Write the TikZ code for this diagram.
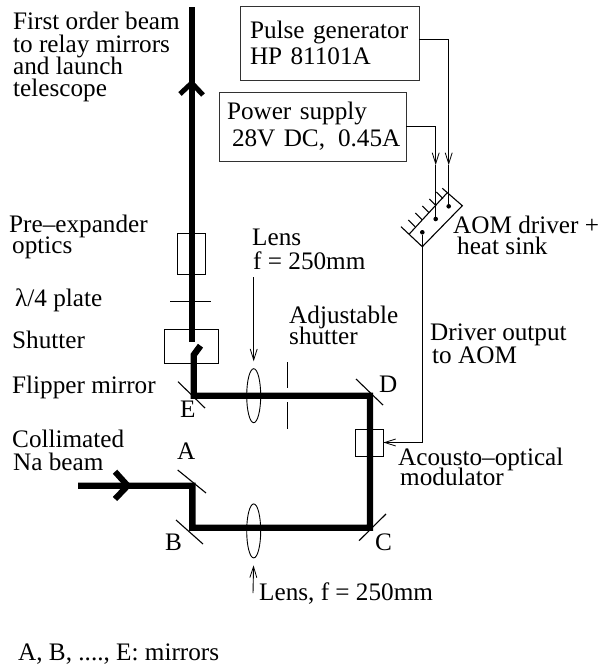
\documentclass[tikz,border=0pt]{standalone}
\usepackage{fontspec}
\setmainfont{Liberation Serif}
\usepackage{xcolor}
\usetikzlibrary{shapes.geometric,arrows.meta,positioning,calc}
\definecolor{boxgray}{RGB}{50, 50, 50}
\tikzset{
    lbl/.style={inner sep=0pt, anchor=base west, align=left, font=\fontsize{25.2}{22.5}\selectfont},
    infobox/.style={draw=boxgray, line width=0.9pt, rectangle, align=left, font=\fontsize{25.2}{26}\selectfont},
    optic/.style={draw=black, line width=0.9pt, rectangle, inner sep=0pt},
    lensbox/.style={draw=black, line width=0.9pt, ellipse, inner sep=0pt, minimum width=14pt, minimum height=54pt},
    pin/.style={fill=black, circle, inner sep=0pt, minimum size=4.6pt},
    beam/.style={line width=6.4pt, black, line join=miter},
    mirror/.style={line width=1.1pt, black},
    wire/.style={line width=0.9pt, black, -{Straight Barb[length=11pt,width=7pt,line width=0.8pt]}},
    plainwire/.style={line width=0.9pt, black},
}
\begin{document}
\begin{tikzpicture}[x=1pt, y=-1pt]
    \useasboundingbox (0,0) rectangle (601,668);

    % Instruments
    \node [infobox, minimum width=179pt, minimum height=74pt, inner xsep=10pt, text width=159pt] (pulse) at (329.5,43) {Pulse generator\\HP 81101A};
    \node [infobox, minimum width=187pt, minimum height=69pt, inner xsep=2pt, text width=183pt] (power) at (312.5,126.5) {\hspace*{6pt}Power supply\\[1pt]\hspace*{11pt}\mbox{28V DC,\hspace{13pt}0.45A}};

    % Optics on the beam
    \node [optic, minimum width=27.3pt, minimum height=40.3pt] (expander) at (191.3,254) {};
    \node [optic, minimum width=54.3pt, minimum height=34pt, below=54pt of expander] (shutterbox) {};
    \node [optic, minimum width=27.3pt, minimum height=27pt] (aom) at (369.3,442.5) {};
    \node [lensbox] (lensup) at (253.7,395.7) {};
    \node [lensbox, below=80.3pt of lensup] (lensdown) {};

    % Beam corners
    \coordinate (A) at (192.3,485.7);
    \coordinate (B) at (192.3,527.7);
    \coordinate (C) at (370,527.7);
    \coordinate (D) at (370,395.7);
    \coordinate (E) at (193.7,395.7);
    \coordinate (beamin) at (78,485.7);
    \coordinate (beamout) at (191.7,7);
    \coordinate (beamstop) at (191.7,341.7);

    % Beam (flipper mirror diverts it at the shutter)
    \draw [beam] (beamin) -- (A) -- (B) -- (C) -- (D) -- (E) -- (193.7,355) -- (200.5,345.7);
    \draw [beam] (beamstop) -- (beamout);
    \draw [line width=6pt, black] (115,471.7) -- (127.7,485.7) -- (115,499);
    \draw [line width=5pt, black] (180,94) -- (191.7,83) -- (203,95);

    % Mirrors, plate and adjustable shutter
    \draw [mirror] (177.7,470) -- (206,493);
    \draw [mirror] (176,520) -- (203,544);
    \draw [mirror] (359,540.7) -- (386,514);
    \draw [mirror] (356,379) -- (383,405);
    \draw [mirror] (178,381.7) -- (205,408);
    \draw [plainwire] (170,301.7) -- (210.7,301.7);
    \draw [plainwire] (287.3,362) -- (287.3,388);
    \draw [plainwire] (287.3,402) -- (287.3,429);

    % AOM driver with heat sink
    \draw [mirror] (442.3,188.3) -- (462.3,205.7) -- (422.3,246.7) -- (401,226.7);
    \draw [mirror] (409.3,234) -- (447.3,192.7);
    \foreach \i in {0,...,4} {
        \draw [mirror] ({415+7*\i},{226.7-7*\i}) -- ({408.3+7*\i},{220-7*\i});
    }
    \node [pin] (pinout) at (422.3,232.3) {};
    \node [pin] (pinpower) at (435.7,219) {};
    \node [pin] (pinpulse) at (448.7,206.3) {};

    % Cables
    \coordinate (powerin) at (435.7,165);
    \coordinate (pulsein) at (448.7,165);
    \draw [wire] ([yshift=4pt]pulse.east) -| (pulsein);
    \draw [plainwire] (pulsein) -- (pinpulse);
    \draw [wire] (power.east) -| (powerin);
    \draw [plainwire] (powerin) -- (pinpower);
    \draw [wire] (pinout) |- (aom.east);

    % Lens pointers
    \coordinate (lensupfrom) at (253.7,277);
    \coordinate (lensdownfrom) at (253,593);
    \draw [wire, shorten >=7pt] (lensupfrom) -- (lensup.north);
    \draw [wire, shorten >=7pt] (lensdownfrom) -- (lensdown.south);

    % Labels
    \node [lbl] (firstorder) at (13,30) {First order beam};
    \node [lbl] (relay) at (13,52.5) {to relay mirrors};
    \node [lbl] (launch) at (13,75) {and launch};
    \node [lbl] (telescope) at (13,97) {telescope};
    \node [lbl] (preexp) at (9,232) {Pre–expander};
    \node [lbl] (preoptics) at (12,253) {optics};
    \node [lbl] (plate) at (15,306) {λ/4 plate};
    \node [lbl] (shutterlbl) at (12,348) {Shutter};
    \node [lbl] (flipper) at (12,393) {Flipper mirror};
    \node [lbl] (collimated) at (12,447) {Collimated};
    \node [lbl] (nabeam) at (13,470) {Na beam};
    \node [lbl] (mirrors) at (18,660.5) {A, B, ...., E: mirrors};
    \node [lbl] (lblA) at (177,459) {A};
    \node [lbl] (lblB) at (165,550) {B};
    \node [lbl] (lblC) at (375,550.7) {C};
    \node [lbl] (lblD) at (379,392) {D};
    \node [lbl] (lblE) at (180,417) {E};
    \node [lbl] (lensuplbl) at (252,245.7) {Lens};
    \node [lbl] (lensupf) at (253,269) {f = 250mm};
    \node [lbl] (adjust) at (289,323) {Adjustable};
    \node [lbl] (adjshutter) at (289,344) {shutter};
    \node [lbl] (driverout) at (430,340.7) {Driver output};
    \node [lbl] (toaom) at (432,363) {to AOM};
    \node [lbl] (acousto) at (398,465.7) {Acousto–optical};
    \node [lbl] (modulator) at (400,485.7) {modulator};
    \node [lbl] (driver) at (453,233) {AOM driver +};
    \node [lbl] (heatsink) at (457,254) {heat sink};
    \node [lbl] (lensdownlbl) at (259,600) {Lens, f = 250mm};
\end{tikzpicture}
\end{document}
